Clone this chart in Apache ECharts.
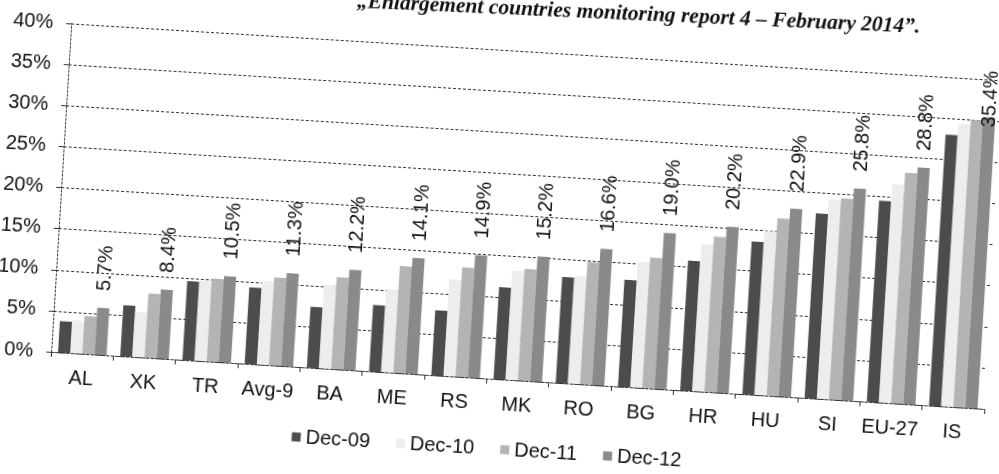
<!DOCTYPE html>
<html><head><meta charset="utf-8">
<script src="https://cdn.jsdelivr.net/npm/echarts@6/dist/echarts.min.js"></script>
<style>
html,body{margin:0;padding:0;width:999px;height:474px;overflow:hidden;background:#fff}
#wrap{position:absolute;left:-50px;top:-50px;width:1099px;height:574px;transform:rotate(3.5deg);transform-origin:549.5px 287px}
</style></head><body><div id="wrap"></div>
<script>
// ---- data ----
const categories = ['AL','XK','TR','Avg-9','BA','ME','RS','MK','RO','BG','HR','HU','SI','EU-27','IS'];
const seriesNames = ['Dec-09','Dec-10','Dec-11','Dec-12'];
const dec09 = [3.8, 6.2, 9.6, 9.3, 7.4, 8.1, 7.9, 11.2, 12.9, 13.0, 15.8, 18.6, 22.5, 24.5, 33.0];
const dec10 = [4.0, 5.5, 9.8, 10.2, 10.2, 10.1, 11.8, 13.3, 13.1, 15.3, 17.9, 20.0, 24.3, 26.6, 34.4];
const dec11 = [4.6, 7.8, 10.1, 10.7, 11.2, 13.0, 13.3, 13.6, 14.9, 15.9, 18.9, 21.6, 24.5, 28.1, 35.0];
const dec12 = [5.7, 8.4, 10.5, 11.3, 12.2, 14.1, 14.9, 15.2, 16.6, 19.0, 20.2, 22.9, 25.8, 28.8, 35.4];
const yTicks = [0, 5, 10, 15, 20, 25, 30, 35, 40];
const captionText = '„Enlargement countries monitoring report 4 – February 2014”.';

// ---- chart ----
const values = [dec09, dec10, dec11, dec12];
const colors = ['#4c4c4c', '#ededed', '#b4b4b4', '#8a8a8a'];
const font = '"Liberation Sans", Arial, sans-serif';
const chart = echarts.init(document.getElementById('wrap'), null, {renderer: 'canvas'});
const labelFormat = v => v.toFixed(1) + '%';
const labelDistance = 17;
const labelMinTop = 91; // labels are kept inside the chart area
const option = {
  animation: false,
  textStyle: {fontFamily: font},
  grid: {left: 109, right: 55, top: 100, bottom: 145, outerBoundsMode: 'none', containLabel: false},
  legend: {
    data: seriesNames, top: 484, left: 'center', icon: 'rect',
    itemWidth: 9, itemHeight: 9, itemGap: 26,
    textStyle: {fontSize: 20, color: '#111', fontFamily: font}
  },
  xAxis: {
    type: 'category', data: categories,
    axisLine: {show: true, lineStyle: {color: '#333', type: [2, 2]}},
    axisTick: {show: true, length: 5, lineStyle: {color: '#333'}},
    axisLabel: {fontSize: 20, color: '#111', margin: 15, interval: 0, fontFamily: font}
  },
  yAxis: {
    type: 'value', min: yTicks[0], max: yTicks[yTicks.length - 1], interval: yTicks[1] - yTicks[0],
    axisLine: {show: true, lineStyle: {color: '#333', type: [2, 2]}},
    axisTick: {show: true, length: 5, lineStyle: {color: '#333'}},
    axisLabel: {formatter: v => v + '%', fontSize: 20, color: '#111', margin: 18, fontFamily: font},
    splitLine: {show: true, lineStyle: {color: '#333', type: [3, 2], width: 1}}
  },
  series: seriesNames.map((n, i) => ({
    name: n, type: 'bar', data: values[i],
    barGap: '0%', barCategoryGap: '22%',
    itemStyle: {color: colors[i]},
    label: i === 3 ? {
      show: true, position: 'top', rotate: 90, align: 'left', verticalAlign: 'middle',
      distance: labelDistance, fontSize: 20, color: '#111', fontFamily: font,
      formatter: p => labelFormat(p.value)
    } : {show: false}
  })),
  graphic: [{
    type: 'text', x: 393, y: 72, rotation: 0.016,
    style: {text: captionText, font: 'italic bold 21.5px "Liberation Serif", serif', fill: '#111', verticalAlign: 'bottom'}
  }]
};
chart.setOption(option);

// keep value labels inside the chart area (pushed down onto the bar when needed)
const ctx = document.createElement('canvas').getContext('2d');
ctx.font = '20px "Liberation Sans"';
const dec12Items = dec12.map(v => {
  const top = chart.convertToPixel({yAxisIndex: 0}, v);
  const len = ctx.measureText(labelFormat(v)).width;
  const d = Math.min(labelDistance, top - len - labelMinTop);
  return {value: v, label: {distance: d}};
});
chart.setOption({series: [{}, {}, {}, {data: dec12Items}]});
</script>
</body></html>
